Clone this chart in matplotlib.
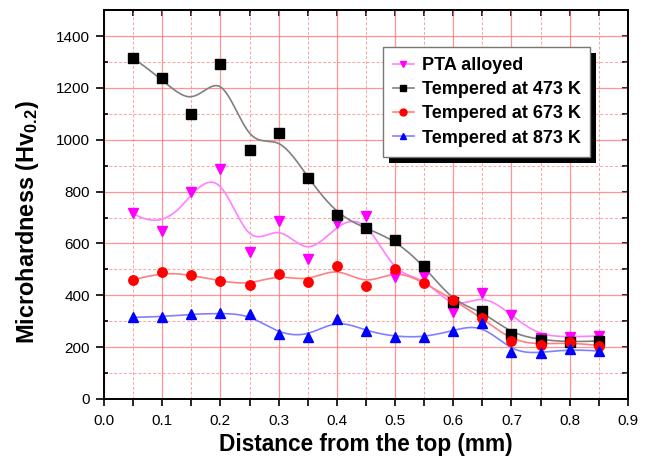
import numpy as np
import matplotlib
matplotlib.use("Agg")
import matplotlib.pyplot as plt
from matplotlib.ticker import MultipleLocator, FormatStrFormatter
from matplotlib.patches import Rectangle

plt.rcParams['font.family'] = ['Liberation Sans', 'DejaVu Sans']
plt.rcParams['mathtext.fontset'] = 'custom'
plt.rcParams['mathtext.rm'] = 'Liberation Sans:bold'
plt.rcParams['mathtext.bf'] = 'Liberation Sans:bold'
plt.rcParams['mathtext.it'] = 'Liberation Sans:bold'

distance = [0.05, 0.10, 0.15, 0.20, 0.25, 0.30, 0.35, 0.40, 0.45, 0.50,
            0.55, 0.60, 0.65, 0.70, 0.75, 0.80, 0.85]
pta_alloyed = [716, 649, 800, 886, 566, 686, 540, 678, 707, 472,
               476, 337, 410, 324, 236, 240, 243]
tempered_473 = [1314, 1239, 1099, 1291, 960, 1025, 853, 711, 658, 613,
                514, 373, 339, 251, 228, 219, 224]
tempered_673 = [459, 491, 478, 455, 440, 481, 451, 513, 436, 500,
                449, 382, 311, 225, 208, 219, 206]
tempered_873 = [315, 317, 328, 330, 327, 251, 240, 309, 262, 240,
                238, 264, 292, 180, 176, 193, 185]
labels = ["PTA alloyed", "Tempered at 473 K", "Tempered at 673 K", "Tempered at 873 K"]


def bspline(xs, ys, n=400):
    """Clamped uniform cubic B-spline using the data points as control points."""
    P = np.column_stack([xs, ys]).astype(float)
    m = len(P)
    k = 3
    knots = np.concatenate([np.zeros(k), np.linspace(0, 1, m - k + 1), np.ones(k)])
    t = np.linspace(0, 1, n)
    t[-1] = 1 - 1e-12
    N = np.zeros((n, len(knots) - 1))
    for i in range(len(knots) - 1):
        N[:, i] = (t >= knots[i]) & (t < knots[i + 1])
    for d in range(1, k + 1):
        Nn = np.zeros((n, len(knots) - 1 - d))
        for i in range(len(knots) - 1 - d):
            a = knots[i + d] - knots[i]
            b = knots[i + d + 1] - knots[i + 1]
            term = np.zeros(n)
            if a > 0:
                term += (t - knots[i]) / a * N[:, i]
            if b > 0:
                term += (knots[i + d + 1] - t) / b * N[:, i + 1]
            Nn[:, i] = term
        N = Nn
    C = N @ P
    return C[:, 0], C[:, 1]


fig = plt.figure(figsize=(6.46, 4.61), dpi=100)
ax = fig.add_axes([0.161, 0.1345, 0.811, 0.8435])

series = [
    (pta_alloyed, 'v', '#ff00ff', '#ff80ff'),
    (tempered_473, 's', '#000000', '#808080'),
    (tempered_673, 'o', '#ff0000', '#ff8080'),
    (tempered_873, '^', '#0000ff', '#8080ff'),
]
handles = []
for (vals, mk, mc, lc), lab in zip(series, labels):
    sx, sy = bspline(distance, vals)
    ax.plot(sx, sy, color=lc, lw=1.2, zorder=3)
    ax.plot(distance, vals, ls='none', marker=mk, color=mc, ms=6.8, zorder=4)
    h, = ax.plot([], [], color=lc, lw=1.2, marker=mk, mfc=mc, mec=mc, ms=5, label=lab)
    handles.append(h)

ax.set_xlim(0, 0.9)
ax.set_ylim(0, 1500)
ax.xaxis.set_major_locator(MultipleLocator(0.1))
ax.xaxis.set_minor_locator(MultipleLocator(0.05))
ax.yaxis.set_minor_locator(MultipleLocator(100))
ax.set_yticks(np.arange(0, 1401, 200))
ax.xaxis.set_major_formatter(FormatStrFormatter('%.1f'))

ax.grid(which='major', color='#ff7070', lw=0.9, alpha=0.75, zorder=0)
ax.grid(which='minor', color='#ff7070', lw=0.7, ls=(0, (3, 2)), alpha=0.65, zorder=0)
ax.set_axisbelow(True)

for s in ax.spines.values():
    s.set_linewidth(1.4)
    s.set_color('black')

ax.tick_params(axis='both', which='both', labelsize=11, width=1.2)
ax.tick_params(axis='x', which='both', direction='out', length=5, pad=5.5)
ax.tick_params(axis='y', which='major', direction='out', length=5.5, pad=4.5)
ax.tick_params(axis='y', which='minor', direction='in', length=3)
sec_x = ax.secondary_xaxis('top')
sec_x.xaxis.set_major_locator(MultipleLocator(0.05))
sec_x.tick_params(direction='in', length=4, width=1.2, labeltop=False)
sec_x.spines['top'].set_linewidth(1.4)
sec_y = ax.secondary_yaxis('right')
sec_y.yaxis.set_major_locator(MultipleLocator(100))
sec_y.tick_params(direction='in', length=4, width=1.2, labelright=False)
sec_y.spines['right'].set_linewidth(1.4)

ax.set_xlabel('Distance from the top (mm)', fontsize=16.3, fontweight='bold', labelpad=4)
ax.set_ylabel('Microhardness (Hv$_{0.2}$)', fontsize=16.9, fontweight='bold', labelpad=11)
ax.yaxis.label.set_y(0.455)

leg = ax.legend(handles=handles, loc='upper left', bbox_to_anchor=(0.532, 0.905),
                prop={'weight': 'bold', 'size': 13.0}, fancybox=False,
                framealpha=1, edgecolor='#777777', borderpad=0.55, handlelength=1.2,
                handletextpad=0.4, labelspacing=0.4, borderaxespad=0)
leg.get_frame().set_linewidth(1.0)
leg.set_zorder(6)

fig.canvas.draw()
bb = leg.get_window_extent().transformed(ax.transAxes.inverted())
dx = 6 / (ax.bbox.width)
dy = 6 / (ax.bbox.height)
ax.add_patch(Rectangle((bb.x0 + dx, bb.y0 - dy), bb.width, bb.height, transform=ax.transAxes,
                       facecolor='black', edgecolor='none', zorder=5.5, clip_on=False))

fig.savefig('out.png', dpi=100)
